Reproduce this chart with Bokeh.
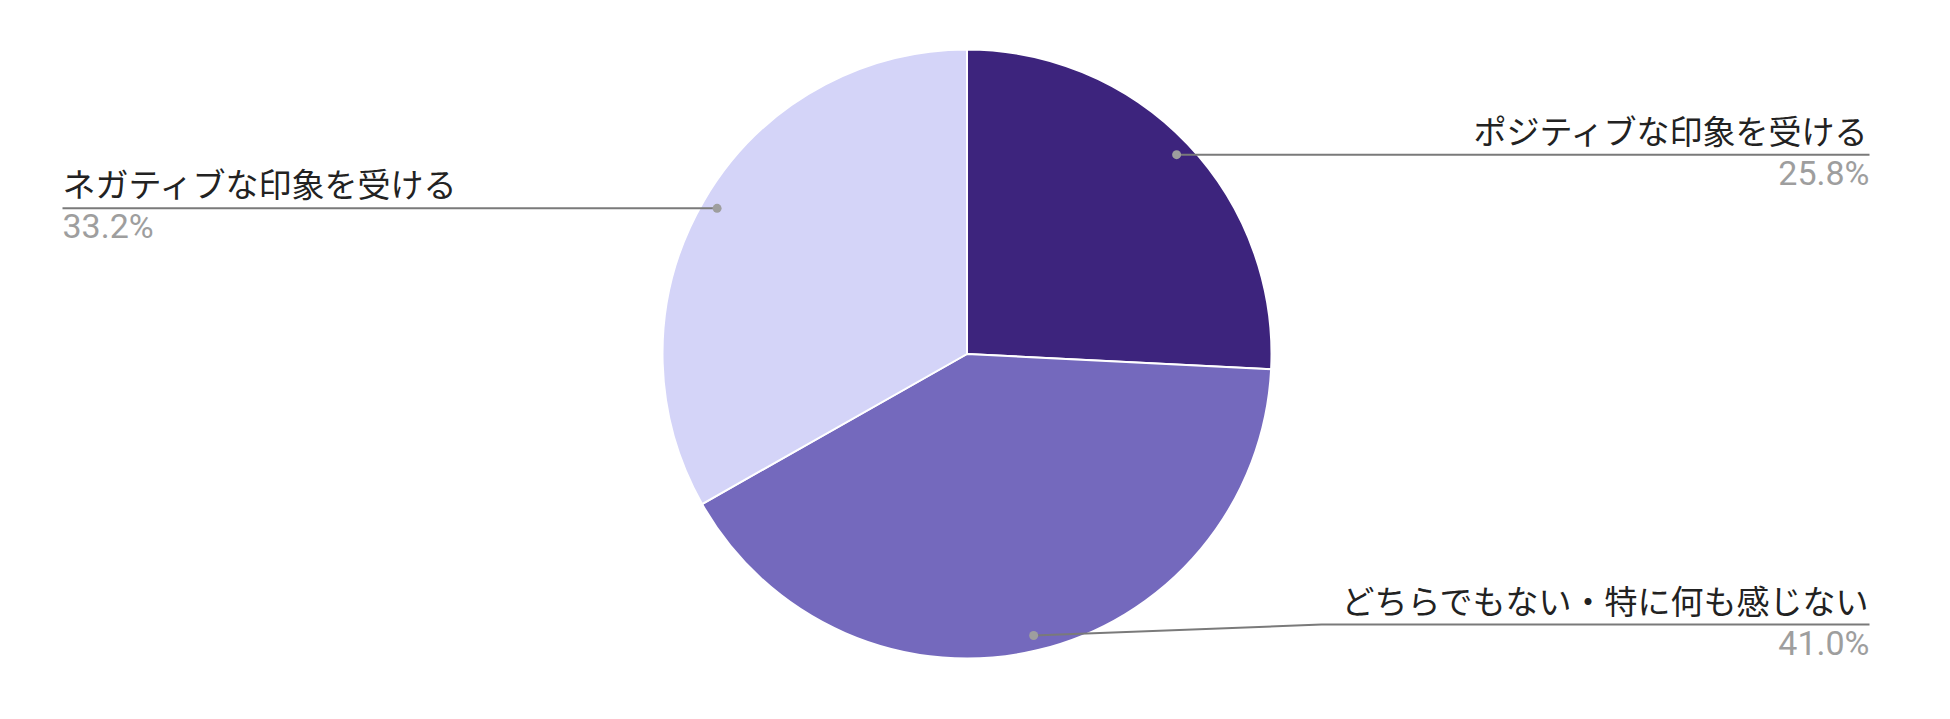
import numpy as np
from bokeh.plotting import figure
from bokeh.models import Range1d
from bokeh.core.properties import value
from bokeh.embed import file_html
from bokeh.resources import INLINE

# ---- data ----
categories = ["ポジティブな印象を受ける", "どちらでもない・特に何も感じない", "ネガティブな印象を受ける"]
shares = [25.8, 41.0, 33.2]
colors = ["#3d247d", "#7469bd", "#d4d4f8"]
pct_labels = ["25.8%", "41.0%", "33.2%"]

# ---- layout (screen px, y downward) ----
W, H = 1950, 719
CX, CY, R = 966.5, 353.5, 304.5
DOT_FRAC = 0.95
label_side = ["right", "right", "left"]
line_y = [None, 624, None]          # leader line height (None = same as dot)
elbow_x = [None, 1321, None]
RIGHT_X, LEFT_X = 1869, 62

def fy(y):
    return H - y

p = figure(width=1934, height=703, output_backend="svg", toolbar_location=None,
           x_range=Range1d(0, 1934), y_range=Range1d(16, 719),
           min_border=0, outline_line_color=None)
p.axis.visible = False
p.grid.visible = False
p.background_fill_color = "white"
p.border_fill_color = "white"

vals = np.array(shares, dtype=float)
frac = vals / vals.sum()
cum = np.concatenate([[0], np.cumsum(frac)])
start = np.pi / 2 - 2 * np.pi * cum[:-1]
end = np.pi / 2 - 2 * np.pi * cum[1:]

p.wedge(x=[CX] * 3, y=[fy(CY)] * 3, radius=R, radius_units="screen",
        start_angle=list(start), end_angle=list(end), direction="clock",
        fill_color=colors, line_color="white", line_width=2)

for i in range(3):
    mid = np.pi / 2 - 2 * np.pi * (cum[i] + cum[i + 1]) / 2
    dx = CX + np.cos(mid) * R * DOT_FRAC
    dy = CY - np.sin(mid) * R * DOT_FRAC
    ly = line_y[i] if line_y[i] is not None else dy
    if label_side[i] == "right":
        xs = [dx] + ([elbow_x[i]] if elbow_x[i] else []) + [RIGHT_X]
        ys = [dy] + ([ly] if elbow_x[i] else []) + [ly]
        tx, align = RIGHT_X, "right"
    else:
        xs = [LEFT_X, dx]
        ys = [ly, dy]
        tx, align = LEFT_X, "left"
    p.line(x=xs, y=[fy(v) for v in ys], line_color="#7a7a7a", line_width=2)
    p.scatter(x=[dx], y=[fy(dy)], size=9, fill_color="#9e9e9e", line_color=None)
    p.text(x=[tx], y=[fy(ly - 25)], text=[categories[i]], text_align=align,
           text_baseline="alphabetic", text_font=value("Noto Sans CJK JP"),
           text_font_size="33px", text_color="#222222")
    p.text(x=[tx], y=[fy(ly + 18)], text=[pct_labels[i]], text_align=align,
           text_baseline="alphabetic", text_font=value("Roboto"),
           text_font_size="34px", text_color="#9e9e9e")

open("out.html", "w").write(file_html(p, INLINE))
